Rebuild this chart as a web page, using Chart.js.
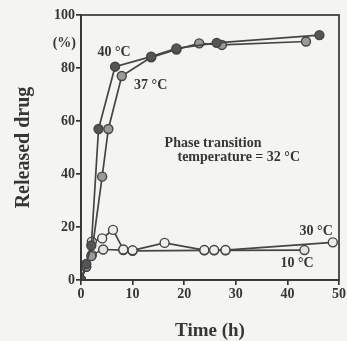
<!DOCTYPE html>
<html>
<head>
<meta charset="utf-8">
<script src="https://cdn.jsdelivr.net/npm/chart.js@4"></script>
<style>
  html, body { margin: 0; padding: 0; background: #f4f4f0; }
  #wrap { width: 347px; height: 341px; position: relative; }
</style>
</head>
<body>
<div id="wrap"><canvas id="releaseChart"></canvas></div>
<script>
// data (time in h, released drug in %)
const time40 = [0, 1, 2, 3.4, 6.6, 13.6, 18.5, 26.3, 46.2];
const drug40 = [0, 6, 13, 57, 80.5, 84.3, 87.4, 89.5, 92.4];
const time37 = [0, 1, 2, 4.1, 5.3, 7.9, 13.6, 18.5, 22.9, 27.3, 43.6];
const drug37 = [0, 5, 9, 39, 57, 77, 84, 87, 89.3, 88.7, 90];
const time30 = [0, 1, 2.1, 4.1, 6.2, 8.2, 10, 16.2, 23.9, 25.8, 28, 48.8];
const drug30 = [0, 6, 14.5, 15.7, 18.9, 11.5, 11.2, 14, 11.3, 11.3, 11.3, 14.2];
const time10 = [0, 1, 2.1, 4.3, 8.2, 10, 23.9, 25.8, 28, 43.3];
const drug10 = [0, 5, 9.5, 11.5, 11.3, 11, 11.2, 11.2, 11.2, 11.3];
const xTicks = [0, 10, 20, 30, 40, 50];
const yTicks = [0, 20, 40, 60, 80, 100];

const serif = "'Liberation Serif', 'DejaVu Serif', serif";
const ink = "#363636";

function pts(xs, ys) {
  return xs.map((x, i) => ({ x: x, y: ys[i] }));
}

function serie(label, xs, ys, fill) {
  return {
    label: label,
    data: pts(xs, ys),
    showLine: true,
    borderColor: "#454545",
    borderWidth: 1.7,
    pointRadius: 4.5,
    pointBackgroundColor: fill,
    pointBorderColor: "#454545",
    pointBorderWidth: 1.4,
  };
}

// texto dentro del grafico, posicionado con las escalas
const notas = [
  { text: "40 °C", t: 6.4, v: 86, align: "center" },
  { text: "37 °C", t: 13.5, v: 73.5, align: "center" },
  { text: "Phase transition", t: 16.2, v: 51.5, align: "left" },
  { text: "temperature = 32 °C", t: 18.7, v: 46.3, align: "left" },
  { text: "30 °C", t: 48.8, v: 18.2, align: "right" },
  { text: "10 °C", t: 45.1, v: 6.2, align: "right" },
];

const marcoYNotas = {
  id: "marcoYNotas",
  afterDatasetsDraw(chart) {
    const { ctx, chartArea, scales } = chart;
    ctx.save();
    ctx.strokeStyle = ink;
    ctx.lineWidth = 1.7;
    ctx.strokeRect(chartArea.left, chartArea.top, chartArea.right - chartArea.left, chartArea.bottom - chartArea.top);
    ctx.fillStyle = ink;
    ctx.font = "bold 14px " + serif;
    ctx.textBaseline = "middle";
    notas.forEach((n) => {
      ctx.textAlign = n.align;
      ctx.fillText(n.text, scales.x.getPixelForValue(n.t), scales.y.getPixelForValue(n.v));
    });
    // "(%)" bajo el 100
    ctx.textAlign = "right";
    ctx.fillText("(%)", chartArea.left - 5, scales.y.getPixelForValue(89.4));
    ctx.restore();
  },
};

new Chart(document.getElementById("releaseChart").getContext("2d"), {
  type: "scatter",
  data: {
    datasets: [
      serie("40 °C", time40, drug40, "#555555"),
      serie("37 °C", time37, drug37, "#9a9a9a"),
      serie("30 °C", time30, drug30, "#eeeeea"),
      serie("10 °C", time10, drug10, "#e4e4e0"),
    ],
  },
  options: {
    responsive: true,
    maintainAspectRatio: false,
    devicePixelRatio: 1,
    animation: false,
    layout: { padding: { top: 15, right: 6, left: 0, bottom: 0 } },
    plugins: { legend: { display: false }, tooltip: { enabled: false } },
    scales: {
      x: {
        type: "linear",
        min: 0,
        max: 50,
        afterBuildTicks: (s) => { s.ticks = xTicks.map((v) => ({ value: v })); },
        afterFit: (s) => { s.height = 61; },
        grid: { drawOnChartArea: false, drawTicks: true, tickLength: 5, color: ink, lineWidth: 1.7 },
        border: { color: ink, width: 1.7 },
        ticks: { color: ink, padding: 1, font: { family: serif, size: 14, weight: "bold" } },
        title: {
          display: true,
          text: "Time (h)",
          color: ink,
          padding: { top: 0, bottom: 0 },
          font: { family: serif, size: 19, weight: "bold", lineHeight: 1 },
        },
      },
      y: {
        type: "linear",
        min: 0,
        max: 100,
        afterBuildTicks: (s) => { s.ticks = yTicks.map((v) => ({ value: v })); },
        afterFit: (s) => { s.width = 81; },
        grid: { drawOnChartArea: false, drawTicks: true, tickLength: 5, color: ink, lineWidth: 1.7 },
        border: { color: ink, width: 1.7 },
        ticks: { color: ink, padding: 1, font: { family: serif, size: 14, weight: "bold" } },
        title: {
          display: true,
          text: "Released drug",
          color: ink,
          padding: { top: 14, bottom: 0 },
          font: { family: serif, size: 20, weight: "bold", lineHeight: 1 },
        },
      },
    },
  },
  plugins: [marcoYNotas],
});
</script>
</body>
</html>
